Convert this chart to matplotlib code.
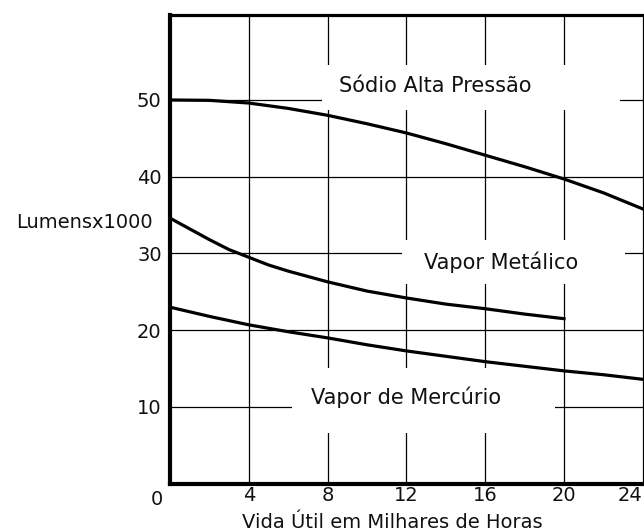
import matplotlib
matplotlib.use("Agg")
import matplotlib.pyplot as plt
from matplotlib.patches import Rectangle

# values (lumens x1000 vs thousands of hours)
sodio_x = [0, 2, 4, 6, 8, 10, 12, 14, 16, 18, 20, 22, 24]
sodio_y = [50.0, 49.95, 49.6, 48.9, 48.0, 46.9, 45.7, 44.3, 42.8, 41.3, 39.7, 37.9, 35.8]

metalico_x = [0, 1, 2, 3, 4, 5, 6, 8, 10, 12, 14, 16, 18, 20]
metalico_y = [34.6, 33.2, 31.8, 30.5, 29.5, 28.5, 27.7, 26.3, 25.1, 24.2, 23.4, 22.8, 22.1, 21.5]

mercurio_x = [0, 2, 4, 6, 8, 10, 12, 14, 16, 18, 20, 22, 24]
mercurio_y = [23.0, 21.8, 20.7, 19.8, 19.0, 18.1, 17.3, 16.6, 15.9, 15.3, 14.7, 14.2, 13.6]

x_ticks = [4, 8, 12, 16, 20, 24]
y_ticks = [10, 20, 30, 40, 50]

labels = ["Sódio Alta Pressão", "Vapor Metálico", "Vapor de Mercúrio"]
label_pos = [(13.45, 51.8), (16.8, 28.9), (11.98, 11.3)]
# white boxes that hide the grid behind each label: (x0, y0, x1, y1)
label_boxes = [(7.7, 48.7, 22.85, 54.55), (11.78, 26.0, 23.1, 31.75), (6.19, 6.6, 19.54, 15.07)]

fig = plt.figure(figsize=(6.44, 5.32), dpi=100)
ax = fig.add_axes([170 / 644, 48.3 / 532, 474 / 644, 468.7 / 532])

ax.set_xlim(0, 24.06)
ax.set_ylim(0, 61.07)

ax.set_xticks(x_ticks)
ax.set_xticklabels([str(t) for t in x_ticks])
ax.set_yticks(y_ticks)
ax.set_yticklabels([str(t) for t in y_ticks])
ax.tick_params(length=0, labelsize=14, colors="#111111")
ax.tick_params(axis="x", pad=2)
ax.tick_params(axis="y", pad=6)
ax.get_xticklabels()[-1].set_horizontalalignment("right")

ax.grid(True, color="black", linewidth=0.9, zorder=1)
ax.set_axisbelow(True)

for (x0, y0, x1, y1) in label_boxes:
    ax.add_patch(Rectangle((x0, y0), x1 - x0, y1 - y0, facecolor="white",
                           edgecolor="none", zorder=1.5))

ax.plot(sodio_x, sodio_y, color="black", linewidth=2.3, zorder=3)
ax.plot(metalico_x, metalico_y, color="black", linewidth=2.3, zorder=3)
ax.plot(mercurio_x, mercurio_y, color="black", linewidth=2.3, zorder=3)

for txt, (tx, ty) in zip(labels, label_pos):
    ax.text(tx, ty, txt, ha="center", va="center", fontsize=15, color="#111111", zorder=4)

ax.annotate("0", xy=(0, 0), xytext=(-13, -16), textcoords="offset pixels",
            ha="center", va="center", fontsize=14, color="#111111", annotation_clip=False)

ax.spines["right"].set_visible(False)
ax.spines["left"].set_linewidth(3)
ax.spines["bottom"].set_linewidth(3)
ax.spines["top"].set_linewidth(2.3)

ax.set_ylabel("Lumensx1000", rotation=0, ha="right", va="center", fontsize=14, color="#111111")
ax.yaxis.set_label_coords(-0.036, 0.558)
ax.set_xlabel("Vida Útil em Milhares de Horas", va="center", fontsize=14, color="#111111")
ax.xaxis.set_label_coords(0.468, -0.082)

fig.savefig("out.png", dpi=100)
